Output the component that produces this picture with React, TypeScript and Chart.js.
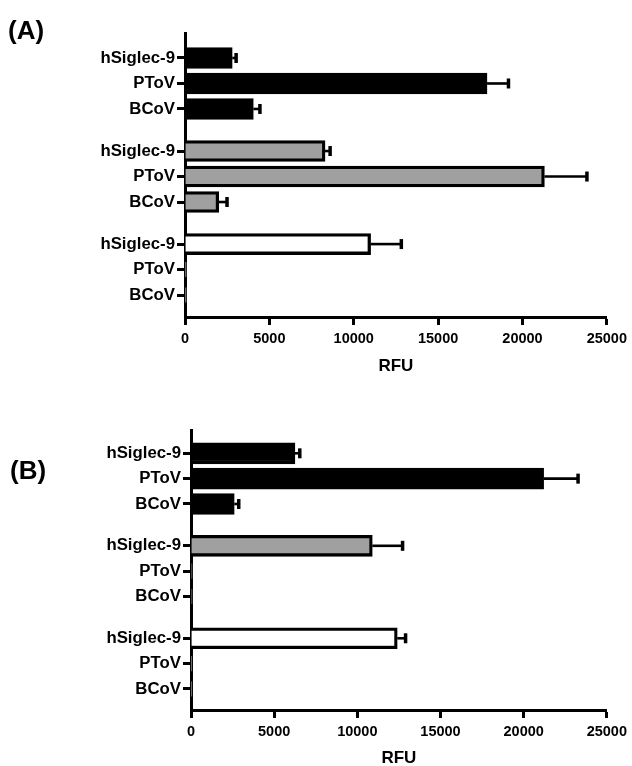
import React, { useEffect, useRef } from 'react';
import { Chart, registerables } from 'chart.js';

Chart.register(...registerables);

// ---- data ----
const rowLabels = ['hSiglec-9', 'PToV', 'BCoV'];
const groupCount = 3;
const xTickValues = [0, 5000, 10000, 15000, 20000, 25000];
const xAxisTitle = 'RFU';

const panelAValues = [2800, 17900, 4050, 8300, 21300, 2000, 11000, 80, 80];
const panelAErrors = [260, 1300, 420, 330, 2550, 520, 1850, 0, 0];

const panelBValues = [6250, 21200, 2600, 10900, 80, 80, 12400, 60, 60];
const panelBErrors = [320, 2100, 300, 1850, 0, 0, 530, 0, 0];

// ---- style ----
const groupFills = ['#000000', '#a0a0a0', '#ffffff'];
const FONT = "'Liberation Sans', Arial, Helvetica, sans-serif";
const W = 632;
const H = 410;
const GROUP_GAP = 1.65;

function makeErrorPlugin(values: number[], errors: number[]) {
  return {
    id: 'errorBars',
    afterDatasetsDraw(chart: any) {
      const meta = chart.getDatasetMeta(0);
      const xs = chart.scales.x;
      const ctx = chart.ctx;
      ctx.save();
      ctx.strokeStyle = '#000';
      ctx.lineCap = 'butt';
      meta.data.forEach((bar: any, i: number) => {
        const e = errors[i];
        if (!e) return;
        const x0 = xs.getPixelForValue(values[i]);
        const x1 = xs.getPixelForValue(values[i] + e);
        const y = bar.y;
        ctx.lineWidth = 2.6;
        ctx.beginPath();
        ctx.moveTo(x0, y);
        ctx.lineTo(x1, y);
        ctx.stroke();
        ctx.lineWidth = 3.5;
        ctx.beginPath();
        ctx.moveTo(x1 - 0.5, y - 5);
        ctx.lineTo(x1 - 0.5, y + 5);
        ctx.stroke();
      });
      ctx.restore();
    },
  };
}

type PanelProps = {
  values: number[];
  errors: number[];
  top: number;
  areaLeft: number;
  areaTop: number;
  areaBottom: number;
  areaRight: number;
  xAxisH: number;
  yMin: number;
  yMax: number;
};

function Panel(p: PanelProps) {
  const ref = useRef<HTMLCanvasElement>(null);
  useEffect(() => {
    const positions: number[] = [];
    const labels: string[] = [];
    for (let g = 0; g < groupCount; g++) {
      rowLabels.forEach((lab, r) => {
        positions.push(g * (rowLabels.length - 1 + GROUP_GAP) + r);
        labels.push(lab);
      });
    }
    const fills = positions.map((_, i) => groupFills[Math.floor(i / rowLabels.length)]);
    const chart = new Chart(ref.current as HTMLCanvasElement, {
      type: 'bar',
      data: {
        datasets: [
          {
            data: p.values.map((v, i) => ({ x: v, y: positions[i] })) as any,
            backgroundColor: fills,
            borderColor: '#000',
            borderWidth: 3.3,
            borderSkipped: 'start',
            barThickness: 21,
          },
        ],
      },
      options: {
        indexAxis: 'y',
        responsive: false,
        animation: false,
        events: [],
        layout: {
          padding: {
            left: 0,
            top: p.areaTop,
            right: W - p.areaRight,
            bottom: H - p.areaBottom - p.xAxisH,
          },
        },
        plugins: {
          legend: { display: false },
          tooltip: { enabled: false },
        },
        scales: {
          x: {
            type: 'linear',
            min: 0,
            max: 25000,
            afterBuildTicks: (s: any) => {
              s.ticks = xTickValues.map((v) => ({ value: v }));
            },
            afterFit: (s: any) => {
              s.height = p.xAxisH;
            },
            border: { display: true, color: '#000', width: 3 },
            grid: {
              display: true,
              drawOnChartArea: false,
              drawTicks: true,
              tickLength: 8,
              tickWidth: 3,
              tickColor: '#000',
            },
            ticks: {
              color: '#000',
              font: { family: FONT, size: 14.5, weight: 'bold' },
              padding: 5,
              maxRotation: 0,
              autoSkip: false,
              callback: (v: any) => String(v),
            },
            title: {
              display: true,
              text: xAxisTitle,
              color: '#000',
              font: { family: FONT, size: 17, weight: 'bold', lineHeight: 1.2 },
              padding: { top: 0, bottom: 0 },
            },
          },
          y: {
            type: 'linear',
            reverse: true,
            min: p.yMin,
            max: p.yMax,
            offset: false,
            bounds: 'data',
            afterBuildTicks: (s: any) => {
              s.ticks = positions.map((v) => ({ value: v }));
            },
            afterFit: (s: any) => {
              s.width = p.areaLeft;
            },
            border: { display: true, color: '#000', width: 3 },
            grid: {
              display: true,
              offset: false,
              drawOnChartArea: false,
              drawTicks: true,
              tickLength: 8,
              tickWidth: 3,
              tickColor: '#000',
            },
            ticks: {
              color: '#000',
              font: { family: FONT, size: 16.8, weight: 'bold' },
              padding: 2,
              autoSkip: false,
              callback: (_v: any, i: number) => labels[i],
            },
          },
        } as any,
      },
      plugins: [makeErrorPlugin(p.values, p.errors)],
    });
    return () => chart.destroy();
  }, []);
  return (
    <canvas
      ref={ref}
      width={W}
      height={H}
      style={{ position: 'absolute', left: 0, top: p.top, width: W, height: H }}
    />
  );
}

const letterStyle: React.CSSProperties = {
  position: 'absolute',
  fontFamily: FONT,
  fontWeight: 'bold',
  fontSize: 26,
  lineHeight: '26px',
  color: '#000',
  whiteSpace: 'nowrap',
};

export default function App() {
  return (
    <div
      style={{
        position: 'absolute',
        left: 0,
        top: 0,
        width: W,
        height: 766,
        overflow: 'hidden',
        background: '#fff',
      }}
    >
      <Panel
        values={panelAValues}
        errors={panelAErrors}
        top={0}
        areaLeft={185}
        areaTop={33}
        areaBottom={317}
        areaRight={610}
        xAxisH={60}
        yMin={-0.98}
        yMax={10.16}
      />
      <Panel
        values={panelBValues}
        errors={panelBErrors}
        top={380}
        areaLeft={191}
        areaTop={50}
        areaBottom={330}
        areaRight={610}
        xAxisH={59}
        yMin={-0.92}
        yMax={10.13}
      />
      <div style={{ ...letterStyle, left: 8, top: 17 }}>(A)</div>
      <div style={{ ...letterStyle, left: 10, top: 457 }}>(B)</div>
    </div>
  );
}
